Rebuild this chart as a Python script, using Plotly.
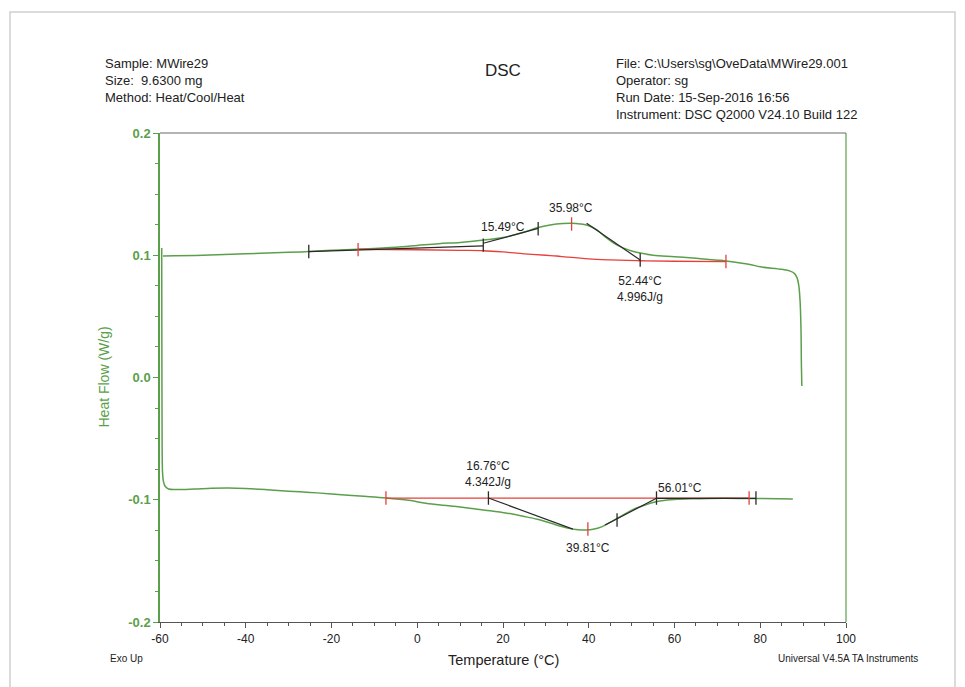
import plotly.graph_objects as go

# ---------------- data ----------------
# cooling run (upper curve), Temperature (°C) vs Heat Flow (W/g)
cool_T = [89.7, 89.6, 89.5, 89.3, 89.0, 88.6, 88.0, 87.0, 85.0, 80.0, 77.6, 72.0, 70.0, 65.0,
          60.0, 55.0, 52.0, 50.0, 48.0, 46.0, 44.0, 42.0, 40.0, 38.0, 36.0, 34.0, 31.0, 28.0,
          25.0, 20.0, 15.0, 10.0, 5.0, 0.0, -5.0, -13.8, -20.0, -25.3, -30.0, -40.0, -50.0, -59.3]
cool_HF = [-0.007, 0.010, 0.040, 0.062, 0.075, 0.0815, 0.085, 0.087, 0.0885, 0.0905, 0.0925,
           0.0953, 0.0960, 0.0975, 0.0988, 0.1000, 0.1018, 0.1035, 0.1060, 0.1095, 0.1145,
           0.1205, 0.1242, 0.1256, 0.1262, 0.1260, 0.1248, 0.1225, 0.1190, 0.1145, 0.1122,
           0.1105, 0.1095, 0.1080, 0.1065, 0.1049, 0.1040, 0.1030, 0.1024, 0.1012, 0.1000, 0.0994]

# heating run (lower curve)
heat_T = [-59.6, -59.6, -59.55, -59.5, -59.4, -59.2, -58.8, -58.0, -56.0, -52.0, -48.0, -44.0,
          -40.0, -35.0, -30.0, -25.0, -20.0, -13.4, -7.3, -2.0, 2.0, 6.0, 10.0, 14.0, 17.0,
          21.0, 25.0, 28.0, 31.0, 33.0, 35.0, 37.0, 39.5, 41.0, 43.0, 45.0, 47.0, 49.0, 51.0,
          53.0, 55.0, 57.0, 60.0, 64.0, 68.0, 75.0, 80.0, 87.6]
heat_HF = [0.106, 0.098, 0.0, -0.060, -0.078, -0.085, -0.089, -0.0912, -0.0916, -0.0912,
           -0.0906, -0.0904, -0.0908, -0.0918, -0.0930, -0.0940, -0.0952, -0.0970, -0.0986,
           -0.1005, -0.1028, -0.1045, -0.1060, -0.1078, -0.1090, -0.1110, -0.1137, -0.1160,
           -0.1190, -0.1212, -0.1232, -0.1243, -0.1247, -0.1242, -0.1222, -0.1185, -0.1145,
           -0.1105, -0.1070, -0.1045, -0.1022, -0.1008, -0.0998, -0.0992, -0.0989, -0.0989,
           -0.0990, -0.0993]

# integration baselines (red)
base_up_T = [-13.8, 0.0, 10.0, 15.4, 20.0, 25.0, 30.0, 32.5, 35.0, 40.0, 45.0, 52.0, 60.0, 72.0]
base_up_HF = [0.1049, 0.1045, 0.1040, 0.1037, 0.1027, 0.1012, 0.1000, 0.0994, 0.0985, 0.0970,
              0.0962, 0.0955, 0.0951, 0.0948]
base_lo_T = [-7.3, 77.4]
base_lo_HF = [-0.0986, -0.0986]

# tangent construction lines (black), as segments
tan_T = [[-25.3, 15.4], [15.4, 28.2], [39.5, 52.0], [16.6, 36.3], [43.8, 55.8], [55.8, 79.0]]
tan_HF = [[0.1029, 0.1076], [0.1098, 0.1220], [0.1261, 0.0961],
          [-0.0986, -0.1240], [-0.1207, -0.0988], [-0.0988, -0.0988]]

# limit / peak markers
red_tick_T = [-13.8, 36.0, 72.0, -7.3, 39.8, 77.4]
red_tick_HF = [0.1046, 0.1256, 0.0949, -0.0986, -0.1240, -0.0986]
black_tick_T = [-25.3, 15.4, 28.2, 52.0, 16.6, 46.6, 55.8, 79.0]
black_tick_HF = [0.1030, 0.1083, 0.1216, 0.0961, -0.0986, -0.1166, -0.0986, -0.0986]

# result labels
label_T = [20.0, 35.9, 52.0, 16.5, 61.3, 39.8]
label_HF = [0.1231, 0.1387, 0.0728, -0.0790, -0.0904, -0.1395]
label_text = ["15.49°C", "35.98°C", "52.44°C<br>4.996J/g", "16.76°C<br>4.342J/g",
              "56.01°C", "39.81°C"]

x_ticks = [-60, -40, -20, 0, 20, 40, 60, 80, 100]
y_ticks = [-0.2, -0.1, 0.0, 0.1, 0.2]

# ---------------- figure ----------------
GREEN = "#5b9f4c"
RED = "#e5403a"
BLACK = "#2a2a2a"
FONT = "Liberation Sans, Arial, sans-serif"
TICK_HALF = 0.0055

fig = go.Figure()

fig.add_trace(go.Scatter(x=cool_T, y=cool_HF, mode="lines", line=dict(color=GREEN, width=1.5),
                         line_shape="spline", hoverinfo="skip"))
fig.add_trace(go.Scatter(x=heat_T, y=heat_HF, mode="lines", line=dict(color=GREEN, width=1.5),
                         line_shape="spline", hoverinfo="skip"))

fig.add_trace(go.Scatter(x=base_up_T, y=base_up_HF, mode="lines", line=dict(color=RED, width=1.3),
                         line_shape="spline", hoverinfo="skip"))
fig.add_trace(go.Scatter(x=base_lo_T, y=base_lo_HF, mode="lines", line=dict(color=RED, width=1.3),
                         hoverinfo="skip"))

tx, ty = [], []
for xs, ys in zip(tan_T, tan_HF):
    tx += xs + [None]
    ty += ys + [None]
fig.add_trace(go.Scatter(x=tx, y=ty, mode="lines", line=dict(color=BLACK, width=1.2),
                         hoverinfo="skip"))

def tick_segments(xs, ys):
    ox, oy = [], []
    for x, y in zip(xs, ys):
        ox += [x, x, None]
        oy += [y - TICK_HALF, y + TICK_HALF, None]
    return ox, oy

rx, ry = tick_segments(red_tick_T, red_tick_HF)
fig.add_trace(go.Scatter(x=rx, y=ry, mode="lines", line=dict(color=RED, width=1.3), hoverinfo="skip"))
bx, by = tick_segments(black_tick_T, black_tick_HF)
fig.add_trace(go.Scatter(x=bx, y=by, mode="lines", line=dict(color=BLACK, width=1.3), hoverinfo="skip"))

for x, y, t in zip(label_T, label_HF, label_text):
    fig.add_annotation(x=x, y=y, text=t, showarrow=False, xanchor="center", yanchor="middle",
                       font=dict(family=FONT, size=12, color="#222"))

def px_x(px):
    return (px - 160) / 686.0

def px_y(py):
    return (622 - py) / 489.0

# header texts
fig.add_annotation(xref="paper", yref="paper", x=px_x(103), y=px_y(54), xanchor="left", yanchor="top",
                   align="left", showarrow=False,
                   text="Sample: MWire29<br>Size:  9.6300 mg<br>Method: Heat/Cool/Heat",
                   font=dict(family=FONT, size=13, color="#222"))
fig.add_annotation(xref="paper", yref="paper", x=px_x(614), y=px_y(54), xanchor="left", yanchor="top",
                   align="left", showarrow=False,
                   text="File: C:\\Users\\sg\\OveData\\MWire29.001<br>Operator: sg<br>"
                        "Run Date: 15-Sep-2016 16:56<br>Instrument: DSC Q2000 V24.10 Build 122",
                   font=dict(family=FONT, size=13, color="#222"))
fig.add_annotation(xref="paper", yref="paper", x=px_x(503), y=px_y(70), xanchor="center",
                   yanchor="middle", showarrow=False, text="DSC",
                   font=dict(family=FONT, size=17, color="#222"))
fig.add_annotation(xref="paper", yref="paper", x=px_x(103), y=0.5, xanchor="center",
                   yanchor="middle", showarrow=False, text="Heat Flow (W/g)", textangle=-90,
                   font=dict(family=FONT, size=14, color=GREEN))
fig.add_annotation(xref="paper", yref="paper", x=px_x(503), y=px_y(660), xanchor="center",
                   yanchor="middle", showarrow=False, text="Temperature (°C)",
                   font=dict(family=FONT, size=14.5, color="#222"))
fig.add_annotation(xref="paper", yref="paper", x=px_x(108), y=px_y(658), xanchor="left",
                   yanchor="middle", showarrow=False, text="Exo Up",
                   font=dict(family=FONT, size=10, color="#222"))
fig.add_annotation(xref="paper", yref="paper", x=px_x(920), y=px_y(658), xanchor="right",
                   yanchor="middle", showarrow=False, text="Universal V4.5A TA Instruments",
                   font=dict(family=FONT, size=10, color="#222"))

# frame lines: top (gray), right (green), page border
fig.add_shape(type="line", xref="paper", yref="paper", x0=0, x1=1, y0=1, y1=1,
              line=dict(color="#6a6a6a", width=1.2))
fig.add_shape(type="line", xref="paper", yref="paper", x0=1, x1=1, y0=0, y1=1,
              line=dict(color=GREEN, width=1.2))
fig.add_shape(type="rect", xref="paper", yref="paper", x0=px_x(10), x1=px_x(955),
              y0=px_y(720), y1=px_y(12), line=dict(color="#d0d0d0", width=1.5))

fig.update_xaxes(range=[-60, 100], tickvals=x_ticks, ticktext=[str(v) for v in x_ticks],
                 showgrid=False, zeroline=False, showline=True, linecolor="#555", linewidth=1.2,
                 ticks="outside", ticklen=5, tickcolor="#555", tickwidth=1,
                 tickfont=dict(family=FONT, size=12, color="#222"),
                 minor=dict(dtick=5, tick0=-60, ticks="outside", ticklen=3, tickcolor="#555",
                            showgrid=False))
fig.update_yaxes(range=[-0.2, 0.2], tickvals=y_ticks, ticktext=["%.1f" % v for v in y_ticks],
                 showgrid=False, zeroline=False, showline=True, linecolor=GREEN, linewidth=1.5,
                 ticks="outside", ticklen=5, tickcolor=GREEN, tickwidth=1,
                 tickfont=dict(family=FONT, size=13, color=GREEN, weight="bold"),
                 minor=dict(dtick=0.025, tick0=-0.2, ticks="outside", ticklen=3,
                            tickcolor=GREEN, showgrid=False))

# the page adds an 8 px body margin, so the figure is 8 px smaller and the margins shifted
fig.update_layout(width=957, height=679, margin=dict(l=152, r=119, t=125, b=65),
                  paper_bgcolor="white", plot_bgcolor="white", showlegend=False,
                  font=dict(family=FONT))

fig.write_html("out.html")
